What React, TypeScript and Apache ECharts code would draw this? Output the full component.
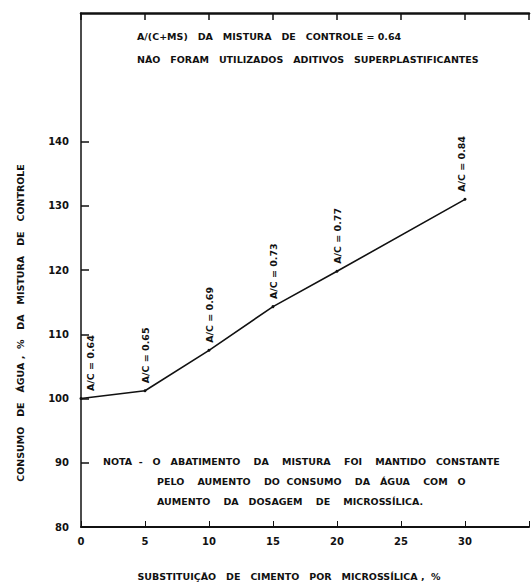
import React, { useEffect, useRef } from "react";
import * as echarts from "echarts";

const xValues = [0, 5, 10, 15, 20, 30];
const yValues = [100, 101.2, 107.5, 114.3, 119.8, 131.0];
const pointLabels = ["A/C = 0.64", "A/C = 0.65", "A/C = 0.69", "A/C = 0.73", "A/C = 0.77", "A/C = 0.84"];
const yTickLabels = [80, 90, 100, 110, 120, 130, 140];
const xTickLabels = [0, 5, 10, 15, 20, 25, 30];

const FONT = "DejaVu Sans";

export default function App() {
  const ref = useRef<HTMLDivElement>(null);
  useEffect(() => {
    if (!ref.current) return;
    const chart = echarts.init(ref.current, undefined, { renderer: "svg" });
    const textStyle = (size: number) => ({ fontFamily: FONT, fontWeight: "bold" as const, fontSize: size, fill: "#111" });
    chart.setOption({
      animation: false,
      backgroundColor: "#fff",
      grid: { left: 81, top: 13, right: 0, bottom: 57 },
      xAxis: [
        {
          type: "value",
          min: 0,
          max: 35,
          interval: 5,
          position: "bottom",
          axisLine: { show: true, lineStyle: { color: "#111", width: 2 } },
          axisTick: { show: true, inside: true, length: 6, lineStyle: { color: "#111" } },
          axisLabel: {
            color: "#111",
            fontFamily: FONT,
            fontWeight: "bold",
            fontSize: 10,
            margin: 9,
            formatter: (v: number) => (xTickLabels.includes(v) ? String(v) : ""),
          },
          splitLine: { show: false },
          name: "SUBSTITUIÇÃO   DE   CIMENTO   POR   MICROSSÍLICA ,  %",
          nameLocation: "middle",
          nameGap: 44,
          nameTextStyle: { color: "#111", fontFamily: FONT, fontWeight: "bold", fontSize: 9.5, padding: [0, 0, 0, -32] },
        },
        {
          type: "value",
          min: 0,
          max: 35,
          interval: 5,
          position: "top",
          axisLine: { show: true, lineStyle: { color: "#111", width: 2.5 } },
          axisTick: { show: true, inside: true, length: 7, lineStyle: { color: "#111", width: 1.5 } },
          axisLabel: { show: false },
          splitLine: { show: false },
        },
      ],
      yAxis: {
        type: "value",
        min: 80,
        max: 160,
        interval: 10,
        axisLine: { show: true, lineStyle: { color: "#111", width: 1.5 } },
        axisTick: {
          show: true,
          inside: true,
          length: 8,
          lineStyle: { color: "#111", width: 1.5 },
          customValues: yTickLabels,
        },
        axisLabel: {
          color: "#111",
          fontFamily: FONT,
          fontWeight: "bold",
          fontSize: 10,
          margin: 12,
          customValues: yTickLabels,
          formatter: (v: number) => String(v),
        },
        splitLine: { show: false },
        name: "CONSUMO   DE   ÁGUA ,  %   DA   MISTURA   DE   CONTROLE",
        nameLocation: "middle",
        nameGap: 56,
        nameTextStyle: { color: "#111", fontFamily: FONT, fontWeight: "bold", fontSize: 9.5, padding: [0, 0, 0, -106] },
      },
      series: [
        {
          type: "line",
          xAxisIndex: 0,
          data: xValues.map((x, i) => ({
            value: [x, yValues[i]],
            label: i === 0 ? { offset: [0, 9] } : i === 5 ? { offset: [0, -4] } : undefined,
          })),
          lineStyle: { color: "#111", width: 1.6 },
          itemStyle: { color: "#111" },
          symbol: "circle",
          symbolSize: 3,
          label: {
            show: true,
            position: "top",
            rotate: 90,
            distance: 6,
            color: "#111",
            fontFamily: FONT,
            fontWeight: "bold",
            fontSize: 9.5,
            align: "left",
            verticalAlign: "middle",
            formatter: (p: any) => pointLabels[p.dataIndex],
          },
        },
      ],
      graphic: [
        { type: "text", left: 137, top: 31, style: { text: "A/(C+MS)   DA   MISTURA   DE   CONTROLE = 0.64", ...textStyle(9.5) } },
        { type: "text", left: 137, top: 54, style: { text: "NÃO   FORAM   UTILIZADOS   ADITIVOS   SUPERPLASTIFICANTES", ...textStyle(9.5) } },
        { type: "text", left: 103, top: 456, style: { text: "NOTA  -   O   ABATIMENTO    DA    MISTURA    FOI    MANTIDO   CONSTANTE", ...textStyle(9.5) } },
        { type: "text", left: 157, top: 476, style: { text: "PELO    AUMENTO    DO  CONSUMO    DA   ÁGUA    COM   O", ...textStyle(9.5) } },
        { type: "text", left: 157, top: 496, style: { text: "AUMENTO    DA   DOSAGEM    DE    MICROSSÍLICA.", ...textStyle(9.5) } },
      ],
    });
    return () => chart.dispose();
  }, []);
  return <div ref={ref} style={{ position: "absolute", left: 0, top: 0, width: 532, height: 586 }} />;
}
